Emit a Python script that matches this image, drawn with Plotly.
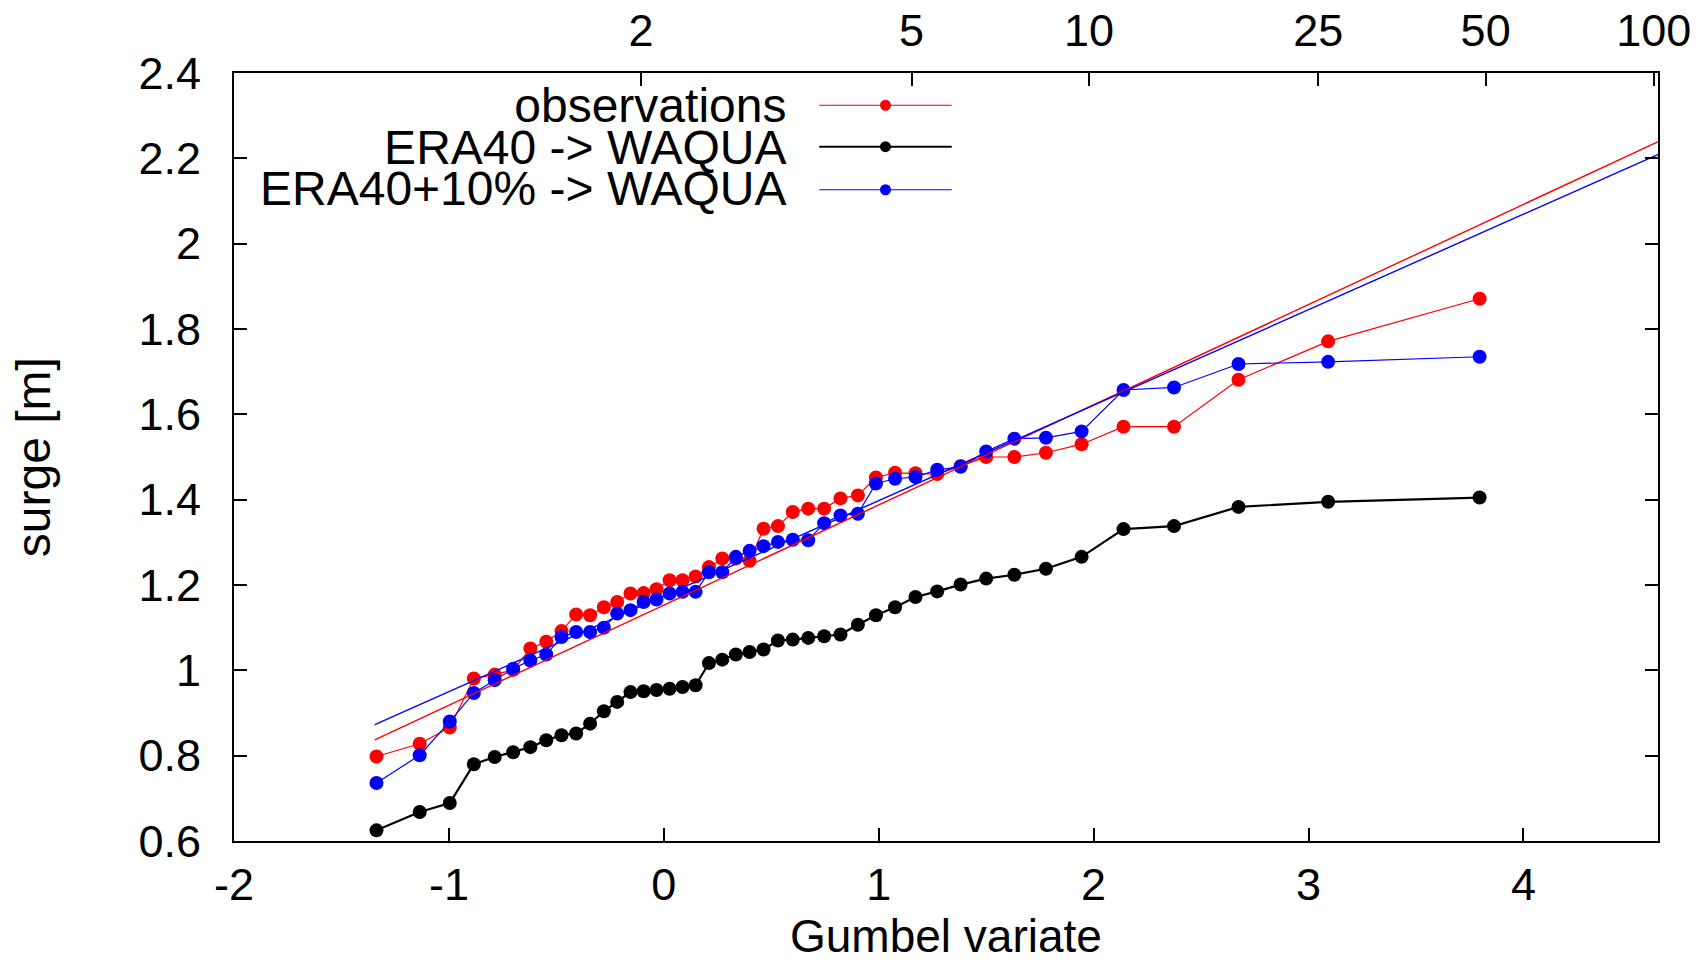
import plotly.graph_objects as go

# ---------------- data ----------------
gumbel_x = [-1.337, -1.136, -0.996, -0.884, -0.787, -0.701, -0.621, -0.547, -0.476, -0.408,
            -0.343, -0.279, -0.217, -0.155, -0.094, -0.034, 0.027, 0.087, 0.148, 0.210,
            0.272, 0.335, 0.399, 0.464, 0.531, 0.600, 0.672, 0.746, 0.822, 0.903,
            0.987, 1.076, 1.171, 1.272, 1.381, 1.500, 1.631, 1.778, 1.944, 2.139,
            2.374, 2.674, 3.091, 3.796]

observations = [0.798, 0.828, 0.866, 0.981, 0.990, 1.001, 1.051, 1.067, 1.092, 1.131,
                1.129, 1.148, 1.160, 1.180, 1.181, 1.190, 1.211, 1.211, 1.220, 1.242,
                1.262, 1.262, 1.257, 1.332, 1.338, 1.371, 1.379, 1.379, 1.403, 1.410,
                1.452, 1.463, 1.462, 1.460, 1.479, 1.500, 1.500, 1.510, 1.530, 1.571,
                1.571, 1.681, 1.771, 1.871]

era40 = [0.625, 0.668, 0.689, 0.780, 0.797, 0.808, 0.820, 0.836, 0.848, 0.852,
         0.875, 0.904, 0.926, 0.949, 0.951, 0.954, 0.957, 0.961, 0.965, 1.017,
         1.025, 1.037, 1.043, 1.049, 1.070, 1.072, 1.076, 1.080, 1.084, 1.107,
         1.129, 1.148, 1.172, 1.185, 1.201, 1.215, 1.224, 1.238, 1.266, 1.331,
         1.338, 1.383, 1.395, 1.405]

era40_plus10 = [0.736, 0.801, 0.880, 0.947, 0.977, 1.004, 1.023, 1.037, 1.078, 1.090,
                1.090, 1.100, 1.133, 1.141, 1.160, 1.166, 1.180, 1.184, 1.184, 1.230,
                1.230, 1.266, 1.280, 1.291, 1.301, 1.306, 1.305, 1.345, 1.363, 1.367,
                1.438, 1.449, 1.453, 1.470, 1.477, 1.513, 1.543, 1.545, 1.560, 1.657,
                1.663, 1.718, 1.723, 1.735]

# fitted Gumbel lines (end points)
fit_x = [-1.345, 4.63]
fit_obs = [0.837, 2.240]
fit_plus10 = [0.873, 2.210]

# axes
x_ticks = [-2, -1, 0, 1, 2, 3, 4]
x_ticktext = ["-2", "-1", "0", "1", "2", "3", "4"]
y_ticks = [0.6, 0.8, 1.0, 1.2, 1.4, 1.6, 1.8, 2.0, 2.2, 2.4]
y_ticktext = ["0.6", "0.8", "1", "1.2", "1.4", "1.6", "1.8", "2", "2.2", "2.4"]
period_pos = [-0.106, 1.153, 1.978, 3.045, 3.824, 4.606]
period_text = ["2", "5", "10", "25", "50", "100"]

x_range = [-2, 4.626]
y_range = [0.6, 2.4]

series_names = ["observations", "ERA40 -> WAQUA", "ERA40+10% -> WAQUA"]
series_colors = ["#ff0000", "#000000", "#0000ff"]
series_widths = [1.2, 2.2, 1.2]

FONT = "Liberation Sans, Arial, Helvetica, sans-serif"
FS_TICK = 45
FS_TEXT = 48

fig = go.Figure()
for name, ys, col, w in zip(series_names, [observations, era40, era40_plus10],
                            series_colors, series_widths):
    fig.add_trace(go.Scatter(x=gumbel_x, y=ys, name=name, mode="lines+markers",
                             line=dict(color=col, width=w),
                             marker=dict(color=col, size=14, line=dict(width=0)),
                             showlegend=False))

fig.add_trace(go.Scatter(x=fit_x, y=fit_obs, mode="lines", name="fit observations",
                         line=dict(color="#ff0000", width=1.4), showlegend=False))
fig.add_trace(go.Scatter(x=fit_x, y=fit_plus10, mode="lines", name="fit ERA40+10%",
                         line=dict(color="#0000ff", width=1.4), showlegend=False))
# invisible trace to activate the top (return period) axis
fig.add_trace(go.Scatter(x=[x_range[0]], y=[y_range[0]], xaxis="x2", mode="markers",
                         marker=dict(opacity=0), showlegend=False, hoverinfo="skip"))

fig.update_layout(
    width=1705, height=967,
    margin=dict(l=234, r=47, t=73, b=126, autoexpand=False),
    paper_bgcolor="white", plot_bgcolor="white",
    font=dict(family=FONT, size=FS_TICK, color="black"),
    xaxis=dict(range=x_range, tickvals=x_ticks, ticktext=x_ticktext,
               ticks="inside", ticklen=13, tickwidth=1.5, tickcolor="black",
               showline=True, linecolor="black", linewidth=2, mirror=True,
               showgrid=False, zeroline=False, ticklabelstandoff=3, automargin=False,
               tickfont=dict(family=FONT, size=FS_TICK)),
    xaxis2=dict(range=x_range, overlaying="x", side="top", anchor="y",
                tickvals=period_pos, ticktext=period_text,
                ticks="inside", ticklen=13, tickwidth=1.5, tickcolor="black",
                showline=False, showgrid=False, zeroline=False, ticklabelstandoff=17,
                automargin=False, tickfont=dict(family=FONT, size=FS_TICK)),
    yaxis=dict(range=y_range, tickvals=y_ticks, ticktext=y_ticktext,
               ticks="inside", ticklen=13, tickwidth=1.5, tickcolor="black",
               showline=True, linecolor="black", linewidth=2, mirror="ticks",
               showgrid=False, zeroline=False, ticklabelstandoff=22, automargin=False,
               tickfont=dict(family=FONT, size=FS_TICK)),
)

# axis titles
fig.add_annotation(text="Gumbel variate", xref="paper", yref="paper", x=0.5, y=-0.1237,
                   xanchor="center", yanchor="middle", showarrow=False,
                   font=dict(family=FONT, size=46))
fig.add_annotation(text="surge [m]", xref="paper", yref="paper", x=-0.141, y=0.5,
                   xanchor="center", yanchor="middle", textangle=-90, showarrow=False,
                   font=dict(family=FONT, size=FS_TEXT))

# gnuplot-style key: right-aligned text block (tight line spacing), samples on the right
key_y = [0.958, 0.904, 0.848]
key_text = "<br>".join(
    '<span style="font-size:%dpx">%s</span>' % (FS_TEXT, n) for n in series_names)
fig.add_annotation(text=key_text, xref="paper", yref="paper", x=0.389, y=key_y[1],
                   xanchor="right", yanchor="middle", align="right", showarrow=False,
                   font=dict(family=FONT, size=32))
for col, w, ky in zip(series_colors, series_widths, key_y):
    fig.add_shape(type="line", xref="paper", yref="paper", x0=0.411, x1=0.504,
                  y0=ky, y1=ky, line=dict(color=col, width=w))
    fig.add_shape(type="circle", xref="paper", yref="paper",
                  xsizemode="pixel", ysizemode="pixel", xanchor=0.4575, yanchor=ky,
                  x0=-5.5, x1=5.5, y0=-5.5, y1=5.5,
                  fillcolor=col, line=dict(color=col, width=0))

fig.write_html("out.html")
